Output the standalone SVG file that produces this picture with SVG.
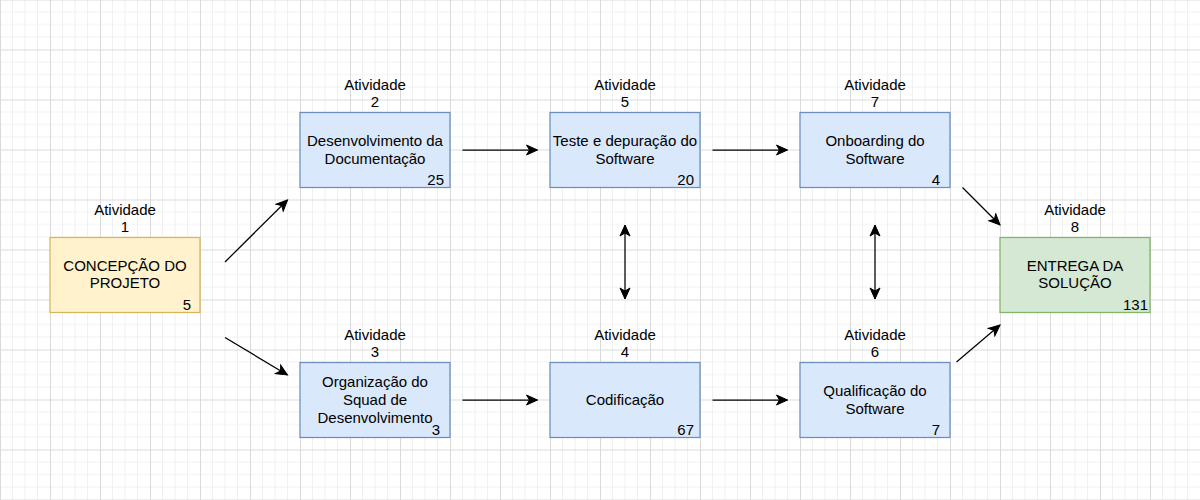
<svg xmlns="http://www.w3.org/2000/svg" width="1200" height="500" viewBox="0 0 1200 500">
<style>
text{font-family:"Liberation Sans",Arial,sans-serif;font-size:15px;fill:#000;text-anchor:middle}
.num{text-anchor:end}
.blue{fill:#dae8fc;stroke:#6c8ebf;stroke-width:1.25}
.yellow{fill:#fff2cc;stroke:#d6b656;stroke-width:1.25}
.green{fill:#d5e8d4;stroke:#82b366;stroke-width:1.25}
.conn{stroke:#000;stroke-width:1.25;fill:none}
</style>
<defs>
<pattern id="grid" width="50" height="50" patternUnits="userSpaceOnUse" x="0" y="-0.5">
<path d="M12.5 0V50M25 0V50M37.5 0V50M0 12.5H50M0 25H50M0 37.5H50" stroke="#f0f0f0" stroke-width="1" fill="none"/>
<path d="M0.5 0V50M0 0.5H50" stroke="#dadada" stroke-width="1" fill="none"/>
</pattern>
<marker id="arr" markerWidth="14" markerHeight="12" viewBox="-12 -6 14 12" refX="0" refY="0" orient="auto-start-reverse" markerUnits="userSpaceOnUse">
<path d="M0 0L-11 -5L-8 0L-11 5Z" fill="#000" stroke="#000" stroke-width="1"/>
</marker>
</defs>
<rect width="1200" height="500" fill="#fff"/>
<rect width="1200" height="500" fill="url(#grid)"/>

<g id="connectors">
<line class="conn" x1="225" y1="262" x2="287.5" y2="200" marker-end="url(#arr)"/>
<line class="conn" x1="225" y1="337.5" x2="287.5" y2="375" marker-end="url(#arr)"/>
<line class="conn" x1="462.5" y1="150" x2="537.5" y2="150" marker-end="url(#arr)"/>
<line class="conn" x1="712.5" y1="150" x2="787.5" y2="150" marker-end="url(#arr)"/>
<line class="conn" x1="462.5" y1="400" x2="537.5" y2="400" marker-end="url(#arr)"/>
<line class="conn" x1="712.5" y1="400" x2="787.5" y2="400" marker-end="url(#arr)"/>
<line class="conn" x1="962.5" y1="187.5" x2="1000" y2="225" marker-end="url(#arr)"/>
<line class="conn" x1="956.5" y1="362" x2="1000" y2="325" marker-end="url(#arr)"/>
<line class="conn" x1="625" y1="225" x2="625" y2="299" marker-start="url(#arr)" marker-end="url(#arr)"/>
<line class="conn" x1="875" y1="225" x2="875" y2="299" marker-start="url(#arr)" marker-end="url(#arr)"/>
</g>

<g id="node1">
<text x="125" y="214.5">Atividade</text>
<text x="125" y="232">1</text>
<rect class="yellow" x="50" y="237.5" width="150" height="75"/>
<text x="125" y="270.5">CONCEPÇÃO DO</text>
<text x="125" y="288">PROJETO</text>
<text class="num" x="191" y="310">5</text>
</g>

<g id="node2">
<text x="375" y="89.5">Atividade</text>
<text x="375" y="107">2</text>
<rect class="blue" x="300" y="112.5" width="150" height="75"/>
<text x="375" y="146">Desenvolvimento da</text>
<text x="375" y="163.5">Documentação</text>
<text class="num" x="444" y="185">25</text>
</g>

<g id="node5">
<text x="625" y="89.5">Atividade</text>
<text x="625" y="107">5</text>
<rect class="blue" x="550" y="112.5" width="150" height="75"/>
<text x="625" y="146">Teste e depuração do</text>
<text x="625" y="163.5">Software</text>
<text class="num" x="694" y="185">20</text>
</g>

<g id="node7">
<text x="875" y="89.5">Atividade</text>
<text x="875" y="107">7</text>
<rect class="blue" x="800" y="112.5" width="150" height="75"/>
<text x="875" y="146">Onboarding do</text>
<text x="875" y="163.5">Software</text>
<text class="num" x="940" y="185">4</text>
</g>

<g id="node3">
<text x="375" y="339.5">Atividade</text>
<text x="375" y="357">3</text>
<rect class="blue" x="300" y="362.5" width="150" height="75"/>
<text x="375" y="387">Organização do</text>
<text x="375" y="405">Squad de</text>
<text x="375" y="422.5">Desenvolvimento</text>
<text class="num" x="440" y="435">3</text>
</g>

<g id="node4">
<text x="625" y="339.5">Atividade</text>
<text x="625" y="357">4</text>
<rect class="blue" x="550" y="362.5" width="150" height="75"/>
<text x="625" y="405">Codificação</text>
<text class="num" x="694" y="435">67</text>
</g>

<g id="node6">
<text x="875" y="339.5">Atividade</text>
<text x="875" y="357">6</text>
<rect class="blue" x="800" y="362.5" width="150" height="75"/>
<text x="875" y="396">Qualificação do</text>
<text x="875" y="413.5">Software</text>
<text class="num" x="940" y="435">7</text>
</g>

<g id="node8">
<text x="1075" y="214.5">Atividade</text>
<text x="1075" y="232">8</text>
<rect class="green" x="1000" y="237.5" width="150" height="75"/>
<text x="1075" y="271">ENTREGA DA</text>
<text x="1075" y="288">SOLUÇÃO</text>
<text class="num" x="1148" y="310">131</text>
</g>
</svg>
